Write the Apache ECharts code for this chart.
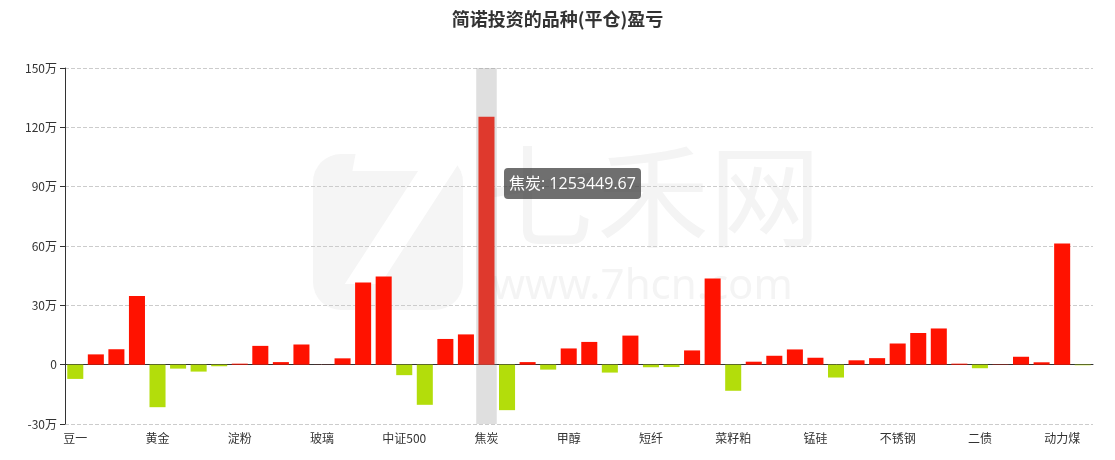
<!DOCTYPE html>
<html>
<head>
<meta charset="utf-8">
<script src="https://cdn.jsdelivr.net/npm/echarts@6/dist/echarts.min.js"></script>
<style>
html,body{margin:0;padding:0;background:#fff;}
#main{width:1115px;height:460px;}
</style>
</head>
<body>
<div id="main"></div>
<script>
var titleText = '简诺投资的品种(平仓)盈亏';
var categories = ['豆一','c1','c2','c3','黄金','c5','c6','c7','淀粉','c9','c10','c11','玻璃','c13','c14','c15','中证500','c17','c18','c19','焦炭','c21','c22','c23','甲醇','c25','c26','c27','短纤','c29','c30','c31','菜籽粕','c33','c34','c35','锰硅','c37','c38','c39','不锈钢','c41','c42','c43','二债','c45','c46','c47','动力煤','c49'];
var values = [-72000, 52000, 78000, 347000, -215000, -20000, -35000, -8000, 5000, 95000, 13000, 102000, 500, 32000, 415000, 446000, -53000, -203000, 130000, 153000, 1253449.67, -230000, 13000, -25000, 82000, 115000, -40000, 147000, -13000, -12000, 72000, 436000, -132000, 15000, 45000, 77000, 35000, -65000, 22000, 33000, 107000, 160000, 183000, 5000, -18000, 1500, 40000, 12000, 613000, -3000];
var yTicks = {min: -300000, max: 1500000, interval: 300000};
var highlightIndex = 20;

var posColor = '#ff1200';
var negColor = '#b3dd0b';

var chart = echarts.init(document.getElementById('main'), null, {renderer: 'canvas'});
var option = {
  animation: false,
  backgroundColor: '#fff',
  title: {
    text: titleText,
    left: 'center',
    top: 5,
    textStyle: {fontSize: 18, fontWeight: 'bold', color: '#333', fontFamily: 'Noto Sans CJK SC'}
  },
  graphic: [
    {type: 'rect', z: -10, silent: true, shape: {x: 313, y: 154, width: 150, height: 156, r: 28}, style: {fill: '#f5f5f5'}},
    {type: 'text', z: -9, silent: true, left: 330, top: 140, style: {text: '7', fill: '#ffffff', font: 'italic bold 190px "DejaVu Sans"'}},
    {type: 'text', z: -10, silent: true, left: 485, top: 140, style: {text: '七禾网', fill: '#f4f4f4', font: '112px "Noto Sans CJK SC"'}},
    {type: 'text', z: -10, silent: true, left: 492, top: 266, style: {text: 'www.7hcn.com', fill: '#f4f4f4', font: '42px "Noto Sans"'}}
  ],
  tooltip: {
    trigger: 'axis',
    triggerOn: 'none',
    alwaysShowContent: true,
    transitionDuration: 0,
    axisPointer: {type: 'shadow', shadowStyle: {color: 'rgba(150,150,150,0.3)'}},
    backgroundColor: 'rgba(50,50,50,0.7)',
    borderWidth: 0,
    borderRadius: 4,
    padding: [5, 5],
    textStyle: {color: '#fff', fontSize: 16, lineHeight: 21, fontFamily: '"Open Sans", "Noto Sans CJK SC"'},
    extraCssText: 'box-shadow:none;line-height:21px;',
    position: [504, 168],
    formatter: function (params) {
      var p = params[0];
      return p.name + ': ' + p.value;
    }
  },
  grid: {left: 65, right: 22, top: 68, bottom: 36},
  xAxis: {
    type: 'category',
    data: categories,
    axisLine: {onZero: true, lineStyle: {color: '#333'}},
    axisTick: {alignWithLabel: true, interval: 3, lineStyle: {color: '#333'}},
    axisLabel: {interval: 3, color: '#333', fontSize: 12, fontFamily: 'Noto Sans CJK SC', margin: 8,
      formatter: function (v) { return /^c\d+$/.test(v) ? '' : v; }}
  },
  yAxis: {
    type: 'value',
    min: yTicks.min,
    max: yTicks.max,
    interval: yTicks.interval,
    axisLine: {show: true, lineStyle: {color: '#333'}},
    axisTick: {show: true, lineStyle: {color: '#333'}},
    splitLine: {lineStyle: {type: 'dashed', color: '#ccc'}},
    axisLabel: {color: '#333', fontSize: 12, fontFamily: 'Noto Sans CJK SC',
      formatter: function (v) { return v === 0 ? '0' : (v / 10000) + '万'; }}
  },
  series: [{
    type: 'bar',
    name: '盈亏',
    data: values,
    barCategoryGap: '22%',
    itemStyle: {color: function (p) { return p.value >= 0 ? posColor : negColor; }},
    emphasis: {disabled: true}
  }]
};
chart.setOption(option);
chart.dispatchAction({type: 'showTip', seriesIndex: 0, dataIndex: highlightIndex});
</script>
</body>
</html>
